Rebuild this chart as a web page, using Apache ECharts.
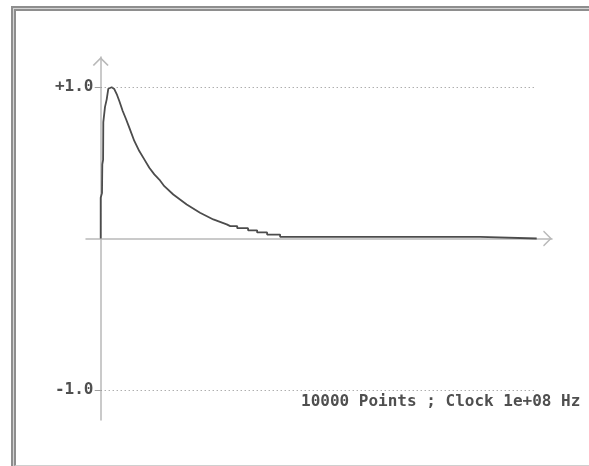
<!DOCTYPE html>
<html><head><meta charset="utf-8">
<script src="https://cdn.jsdelivr.net/npm/echarts@6/dist/echarts.min.js"></script>
<style>
html,body{margin:0;padding:0;background:#fff;width:589px;height:466px;overflow:hidden}
#frameA{position:absolute;left:11px;top:6px;width:600px;height:460px;border-top:2px solid #8e8e8e;border-left:2px solid #8e8e8e;background:#d4d4d4;box-sizing:border-box}
#frameB{position:absolute;left:14px;top:9px;width:600px;height:457px;border-top:2px solid #8e8e8e;border-left:2px solid #8e8e8e;border-bottom:1px solid #cfcfcf;background:#fff;box-sizing:border-box}
#chart{position:absolute;left:0;top:0;width:589px;height:466px}
</style></head><body>
<div id="frameA"></div><div id="frameB"></div><div id="chart"></div>
<script>
// sample index (0..10000 points) and normalised amplitude
const sampleIndex = [0,0,30,37,55,60,99,138,174,197,252,312,367,427,505,580,656,771,885,1000,1115,1230,1344,1459,1665,1973,2278,2583,2890,2971,3131,3131,3380,3380,3588,3588,3817,3817,4115,4115,8703,8703,10000];
const amplitude = [0,0.27,0.30,0.49,0.52,0.77,0.87,0.92,0.99,1.0,1.0,0.988,0.955,0.909,0.843,0.79,0.733,0.645,0.578,0.523,0.468,0.424,0.39,0.346,0.291,0.225,0.17,0.126,0.093,0.082,0.082,0.068,0.068,0.054,0.054,0.040,0.040,0.026,0.026,0.011,0.011,0,0];
const gridLevels = [-1, 1];
const levelLabels = {'-1': '-1.0', '1': '+1.0'};
const totalPoints = 10000;
const tickStart = -137; // short solid tick left of the y axis, in sample units
const caption = '10000 Points ; Clock 1e+08 Hz';

const chevron = 'path://M0,10 L10,0 L20,10 L18.4,11 L10,2.6 L1.6,11 Z';
const axisColor = '#b9b9b9';
const textFont = {fontFamily: 'DejaVu Sans Mono', fontWeight: 'bold', fontSize: 16, color: '#4f4f4f'};

const chart = echarts.init(document.getElementById('chart'), null, {renderer: 'canvas'});
chart.setOption({
  animation: false,
  title: {text: caption, left: 301, top: 394, padding: 0, textStyle: textFont},
  grid: {left: 86, right: 37, top: 57, bottom: 46, containLabel: false, outerBoundsMode: 'none'},
  xAxis: {
    type: 'value', min: -337, max: 10351,
    axisLine: {onZero: true, lineStyle: {color: axisColor, width: 1.5}, symbol: ['none', chevron], symbolSize: [16, 9], symbolOffset: [0, -4.5]},
    axisTick: {show: false}, axisLabel: {show: false}, splitLine: {show: false}
  },
  yAxis: {
    type: 'value', min: -1.2, max: 1.2,
    axisLine: {show: true, onZero: true, lineStyle: {color: axisColor, width: 1.5}, symbol: ['none', chevron], symbolSize: [16, 9], symbolOffset: [0, -4.5]},
    axisTick: {show: false},
    axisLabel: {show: true, customValues: gridLevels, margin: -7.5, formatter: v => levelLabels[String(v)], ...textFont},
    splitLine: {show: false}
  },
  series: [{
    type: 'line',
    data: sampleIndex.map((x, i) => [x, amplitude[i]]),
    showSymbol: false,
    symbol: 'none',
    lineStyle: {color: '#4c4c4c', width: 1.8},
    silent: true,
    markLine: {
      silent: true, symbol: 'none', label: {show: false},
      lineStyle: {color: '#8a8a8a', width: 1, type: [1, 3]},
      data: gridLevels.map(l => [{coord: [0, l]}, {coord: [totalPoints, l]}]).concat(
        gridLevels.map(l => [{coord: [tickStart, l], lineStyle: {type: 'solid', color: '#a0a0a0'}}, {coord: [0, l]}]))
    }
  }]
});
</script>
</body></html>
